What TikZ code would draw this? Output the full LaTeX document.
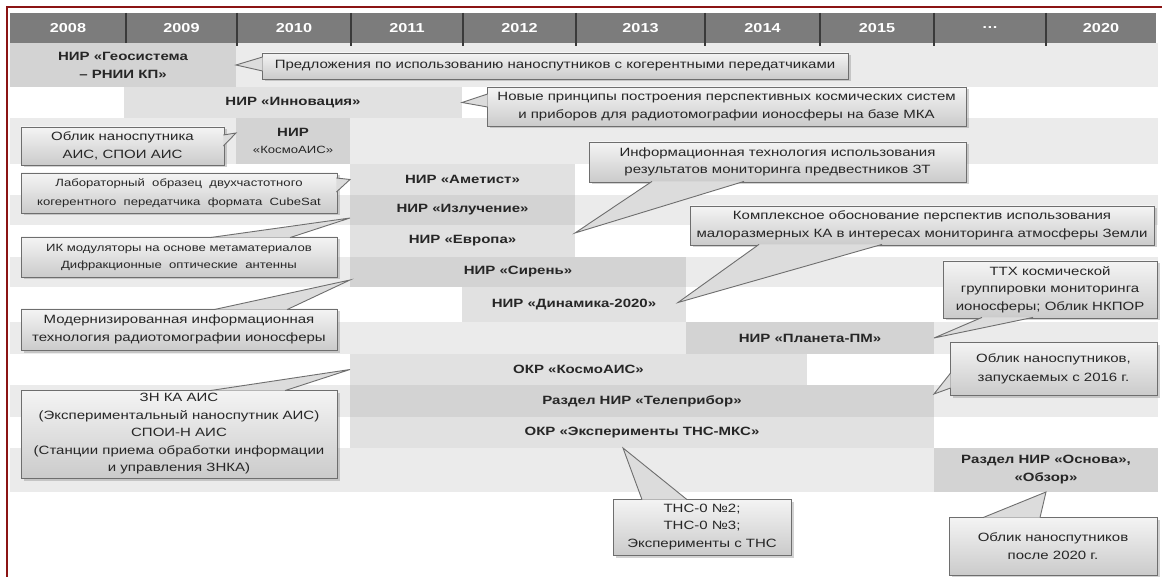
\documentclass[tikz,border=0pt]{standalone}
\usepackage{fontspec}
\setmainfont{Liberation Sans}[FakeStretch=1.25]
\usetikzlibrary{shadows,calc}
\definecolor{hdr}{HTML}{7C7C7C}
\definecolor{sepc}{HTML}{3A3A3A}
\definecolor{stripe}{HTML}{EBEBEB}
\definecolor{blkd}{HTML}{D3D3D3}
\definecolor{blkl}{HTML}{E1E1E1}
\definecolor{txt}{HTML}{262626}
\definecolor{cbord}{HTML}{6E6E6E}
\definecolor{framec}{HTML}{8B1414}
\definecolor{ctop}{HTML}{F4F4F4}
\definecolor{cbot}{HTML}{CBCBCB}
\definecolor{wfill}{HTML}{DCDCDC}
\tikzset{
  blk/.style={inner sep=0pt, outer sep=0pt, anchor=north west, text=txt,
    font=\bfseries\fontsize{12}{18}\selectfont, align=center},
  yr/.style={text=white, font=\bfseries\fontsize{13}{15}\selectfont},
  callout/.style={anchor=north west, inner sep=0pt, outer sep=0pt, draw=cbord,
    line width=0.9pt, top color=ctop, bottom color=cbot,
    drop shadow={shadow xshift=2.5pt, shadow yshift=-2.5pt, opacity=0.35},
    text=txt, align=center, font=\fontsize{12}{17.5}\selectfont},
  ptr/.style={draw=cbord, line width=0.9pt, line join=miter},
  sepline/.style={draw=sepc, line width=2pt},
}
\newcommand{\blk}[7]{\node[blk, fill=#6, minimum width={(#4-#2)*1pt},
  minimum height={(#5-#3)*1pt}] (#1) at (#2,#3) {#7};}
\newcommand{\callout}[7]{\node[callout, minimum width={(#4-#2)*1pt},
  minimum height={(#5-#3)*1pt}, #6] (#1) at (#2,#3) {#7};}
\newcommand{\cptr}[3]{\fill[wfill] #1 -- #3 -- #2 -- cycle; \draw[ptr] #1 -- #3 -- #2;}
\begin{document}
\begin{tikzpicture}[x=1pt,y=-1pt]
\useasboundingbox (0,0) rectangle (1162,577);
\fill[white] (0,0) rectangle (1162,577);
% frame lines
\draw[framec, line width=2pt] (7,577) -- (7,7) -- (1162,7);
% stripes
\foreach \a/\b in {43/87,118/164,195/225,257/287,322/354,385/417,448/492}
  \fill[stripe] (10,\a) rectangle (1158,\b);
% header
\fill[hdr] (10,13) rectangle (1156,43);
\foreach \xs in {126,237,351,463,576,705,820,934,1046}
  \draw[sepline] (\xs,13) -- (\xs,46);
\foreach \xc/\t in {68/2008,181.5/2009,294/2010,407/2011,519.5/2012,640.5/2013,762.5/2014,877/2015,990/\dots,1101/2020}
  \node[yr] at (\xc,28) {\t};
% blocks
\blk{geo}{10}{43}{236}{87}{blkd}{НИР «Геосистема\\– РНИИ КП»}
\blk{inno}{124}{87}{462}{118}{blkl}{НИР «Инновация»}
\blk{kosmo}{236}{118}{350}{164}{blkd}{НИР\\[-1pt]{\mdseries\fontsize{10.5}{12}\selectfont «КосмоАИС»}}
\blk{amet}{350}{164}{575}{195}{blkl}{НИР «Аметист»}
\blk{izl}{350}{195}{575}{225}{blkd}{НИР «Излучение»}
\blk{evr}{350}{225}{575}{257}{blkl}{НИР «Европа»}
\blk{siren}{350}{257}{686}{287}{blkd}{НИР «Сирень»}
\blk{dyn}{462}{287}{686}{322}{blkl}{НИР «Динамика-2020»}
\blk{plan}{686}{322}{934}{354}{blkd}{НИР «Планета-ПМ»}
\blk{okr}{350}{354}{807}{385}{blkl}{ОКР «КосмоАИС»}
\blk{tel}{350}{385}{934}{417}{blkd}{Раздел НИР «Телеприбор»}
\blk{eks}{350}{417}{934}{448}{blkl}{ОКР «Эксперименты ТНС-МКС»}
\blk{osn}{934}{448}{1158}{492}{blkd}{Раздел НИР «Основа»,\\«Обзор»}
% callouts
\callout{c1}{262}{53}{848}{79}{}{Предложения по использованию наноспутников с когерентными передатчиками}
\cptr{($(c1.north west)+(0.6,4)$)}{($(c1.north west)+(0.6,18)$)}{(geo.east)}
\callout{c2}{487}{87}{966}{126}{}{Новые принципы построения перспективных космических систем\\и приборов для радиотомографии ионосферы на базе МКА}
\cptr{($(c2.north west)+(0.6,7)$)}{($(c2.north west)+(0.6,20)$)}{(inno.east)}
\callout{c3}{21}{127}{224}{165}{}{Облик наноспутника\\АИС, СПОИ АИС}
\cptr{($(c3.north east)+(-0.6,8)$)}{($(c3.north east)+(-0.6,19)$)}{($(kosmo.north west)+(0,15)$)}
\callout{c4}{21}{173}{337}{213}{font=\fontsize{10.5}{19}\selectfont}{Лабораторный~~образец~~двухчастотного\\когерентного~~передатчика~~формата~~CubeSat}
\cptr{($(c4.north east)+(-0.6,5)$)}{($(c4.north east)+(-0.6,19)$)}{(amet.west)}
\callout{c5}{21}{237}{337}{277}{font=\fontsize{10.5}{17}\selectfont}{ИК модуляторы на основе метаматериалов\\Дифракционные~~оптические~~антенны}
\cptr{($(c5.north west)+(189,0.6)$)}{($(c5.north west)+(269,0.6)$)}{($(izl.west)+(0,8)$)}
\callout{c6}{589}{142}{966}{182}{}{Информационная технология использования\\результатов мониторинга предвестников ЗТ}
\cptr{($(c6.south west)+(63,-0.6)$)}{($(c6.south west)+(155,-0.6)$)}{($(evr.north east)+(0,8)$)}
\callout{c7}{690}{206}{1154}{245}{}{Комплексное обоснование перспектив использования\\малоразмерных КА в интересах мониторинга атмосферы Земли}
\cptr{($(c7.south west)+(69,-0.6)$)}{($(c7.south west)+(192,-0.6)$)}{($(dyn.east)+(-8,-2)$)}
\callout{c8}{21}{309}{337}{350}{}{Модернизированная информационная\\технология радиотомографии ионосферы}
\cptr{($(c8.north west)+(193,0.6)$)}{($(c8.north west)+(266,0.6)$)}{($(siren.west)+(0,8)$)}
\callout{c9}{943}{261}{1157}{318}{}{ТТХ космической\\группировки мониторинга\\ионосферы; Облик НКПОР}
\cptr{($(c9.south west)+(39,-0.6)$)}{($(c9.south west)+(90,-0.6)$)}{(plan.east)}
\callout{c10}{950}{342}{1157}{395}{font=\fontsize{12}{19}\selectfont}{Облик наноспутников,\\запускаемых с 2016 г.}
\cptr{($(c10.north west)+(0.6,31)$)}{($(c10.north west)+(0.6,46)$)}{($(tel.north east)+(0,9)$)}
\callout{c11}{21}{390}{337}{478}{}{ЗН КА АИС\\(Экспериментальный наноспутник АИС)\\СПОИ-Н АИС\\(Станции приема обработки информации\\и управления ЗНКА)}
\cptr{($(c11.north west)+(189,0.6)$)}{($(c11.north west)+(264,0.6)$)}{(okr.west)}
\callout{c12}{613}{499}{791}{555}{}{ТНС-0 №2;\\ТНС-0 №3;\\Эксперименты с ТНС}
\cptr{($(c12.north west)+(29,0.6)$)}{($(c12.north west)+(74,0.6)$)}{($(eks.south)+(-19,0)$)}
\callout{c13}{949}{517}{1157}{575}{font=\fontsize{12}{18}\selectfont}{Облик наноспутников\\после 2020 г.}
\cptr{($(c13.north west)+(34,0.6)$)}{($(c13.north west)+(91,0.6)$)}{(osn.south)}
\end{tikzpicture}
\end{document}
